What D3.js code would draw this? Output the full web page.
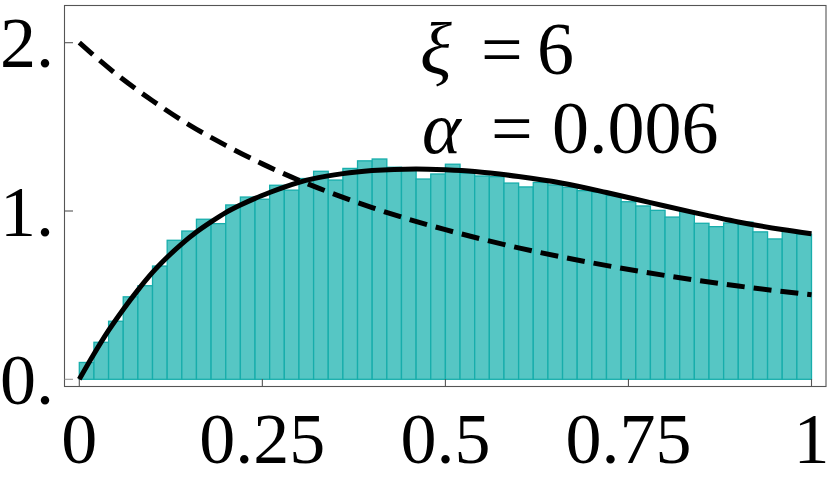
<!DOCTYPE html>
<html>
<head>
<meta charset="utf-8">
<script src="https://cdn.jsdelivr.net/npm/d3@7"></script>
<style>
  html, body { margin: 0; padding: 0; background: #fff; }
  svg { display: block; }
  text { font-family: "Liberation Serif", "Times New Roman", serif; fill: #000; }
</style>
</head>
<body>
<svg id="chart" width="830" height="479"></svg>
<script>
// ---- data ----
const binEdgesStart = 0, binWidth = 0.02;
const histValues = [
  0.10, 0.22, 0.345, 0.49, 0.556, 0.673, 0.826, 0.881, 0.951, 0.925,
  1.036, 1.083, 1.07, 1.153, 1.124, 1.193, 1.236, 1.184, 1.253, 1.298,
  1.309, 1.26, 1.254, 1.19, 1.22, 1.278, 1.225, 1.208, 1.204, 1.166,
  1.143, 1.170, 1.155, 1.141, 1.121, 1.112, 1.092, 1.055, 1.030, 1.004,
  0.964, 1.000, 0.927, 0.907, 0.929, 0.934, 0.876, 0.834, 0.884, 0.862
];
const solidX = [0, 0.02, 0.04, 0.06, 0.08, 0.10, 0.12, 0.14, 0.16, 0.18, 0.20, 0.22, 0.24, 0.26, 0.28, 0.30, 0.32, 0.36, 0.40, 0.46, 0.50, 0.54, 0.60, 0.66, 0.72, 0.78, 0.84, 0.90, 0.96, 1.00];
const solidY = [0, 0.15, 0.29, 0.415, 0.53, 0.635, 0.725, 0.805, 0.875, 0.935, 0.99, 1.035, 1.075, 1.11, 1.142, 1.17, 1.192, 1.222, 1.24, 1.25, 1.245, 1.235, 1.205, 1.165, 1.11, 1.05, 0.99, 0.935, 0.89, 0.865];
const dashedX = [0, 0.05, 0.1, 0.15, 0.2, 0.25, 0.3, 0.35, 0.4, 0.45, 0.5, 0.6, 0.7, 0.8, 0.9, 1.0];
const dashedY = [2.0, 1.815, 1.655, 1.512, 1.39, 1.28, 1.183, 1.097, 1.02, 0.951, 0.889, 0.781, 0.692, 0.617, 0.554, 0.502];
const xTicks = [0, 0.25, 0.5, 0.75, 1];
const xTickLabels = ["0", "0.25", "0.5", "0.75", "1"];
const yTicks = [0, 1, 2];
const yTickLabels = ["0.", "1.", "2."];
const annotations = [
  { sym: "ξ", val: "6" },
  { sym: "α", val: "0.006" }
];

// ---- layout ----
const svg = d3.select("#chart");
const frame = { left: 64.5, top: 5.5, right: 826, bottom: 386.5 };
const x = d3.scaleLinear().domain([0, 1]).range([79.3, 811.5]);
const y = d3.scaleLinear().domain([0, 2]).range([379.3, 42.7]);

// bars
svg.append("g").selectAll("rect").data(histValues).join("rect")
  .attr("x", (d, i) => x(binEdgesStart + i * binWidth))
  .attr("width", (d, i) => x(binEdgesStart + (i + 1) * binWidth) - x(binEdgesStart + i * binWidth))
  .attr("y", d => y(d))
  .attr("height", d => y(0) - y(d))
  .attr("fill", "#56c6c4")
  .attr("stroke", "#17adab")
  .attr("stroke-width", 1.3);

// frame
svg.append("rect")
  .attr("x", frame.left).attr("y", frame.top)
  .attr("width", frame.right - frame.left).attr("height", frame.bottom - frame.top)
  .attr("fill", "none").attr("stroke", "#555").attr("stroke-width", 1.1);

// ticks
const tickG = svg.append("g").attr("stroke", "#555").attr("stroke-width", 1.1);
tickG.selectAll("line.xt").data(xTicks).join("line").attr("class", "xt")
  .attr("x1", d => x(d)).attr("x2", d => x(d))
  .attr("y1", frame.bottom).attr("y2", frame.bottom - 7.5);
tickG.selectAll("line.yt").data(yTicks).join("line").attr("class", "yt")
  .attr("x1", frame.left).attr("x2", frame.left + 8.5)
  .attr("y1", d => y(d)).attr("y2", d => y(d))
  .attr("stroke", (d) => d === 0 ? "#999" : "#555");

// tick labels
svg.append("g").selectAll("text").data(xTicks).join("text")
  .attr("x", d => x(d)).attr("y", 463)
  .attr("text-anchor", "middle")
  .attr("font-size", 72)
  .text((d, i) => xTickLabels[i]);
svg.append("g").selectAll("text").data(yTicks).join("text")
  .attr("x", 54).attr("y", d => y(d) + 24.5)
  .attr("text-anchor", "end")
  .attr("font-size", 72)
  .text((d, i) => yTickLabels[i]);

// curves
const line = d3.line().x(d => x(d[0])).y(d => y(d[1])).curve(d3.curveMonotoneX);
svg.append("path")
  .datum(dashedX.map((v, i) => [v, dashedY[i]]))
  .attr("d", line)
  .attr("fill", "none").attr("stroke", "#000").attr("stroke-width", 5)
  .attr("stroke-dasharray", "18,9");
svg.append("path")
  .datum(solidX.map((v, i) => [v, solidY[i]]))
  .attr("d", line)
  .attr("fill", "none").attr("stroke", "#000").attr("stroke-width", 5);

// annotations
const annPos = [
  { sx: 420, ex: 481, vx: 537, base: 74 },
  { sx: 422, ex: 491, vx: 552, base: 153 }
];
annotations.forEach((a, i) => {
  const p = annPos[i];
  const t = svg.append("g").attr("font-size", 74);
  t.append("text").attr("x", p.sx).attr("y", p.base).attr("font-style", "italic").text(a.sym);
  t.append("text").attr("x", p.ex).attr("y", p.base).text("=");
  t.append("text").attr("x", p.vx).attr("y", p.base).text(a.val);
});
</script>
</body>
</html>
